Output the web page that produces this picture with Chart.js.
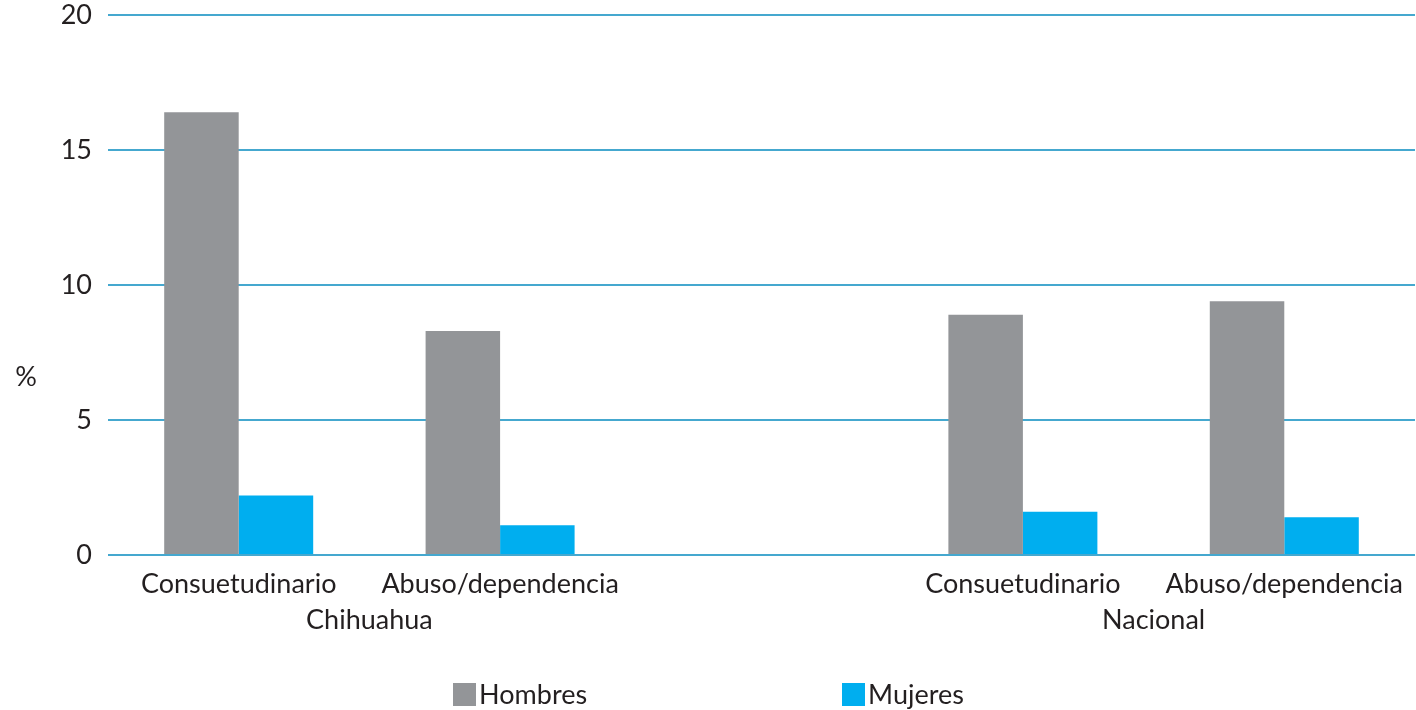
<!DOCTYPE html>
<html>
<head>
<meta charset="utf-8">
<script src="https://cdn.jsdelivr.net/npm/chart.js@4"></script>
<style>
    html, body { margin: 0; padding: 0; background: #fff; }
    #wrap { position: relative; width: 1416px; height: 710px; }
    #legend {
        position: absolute; left: 0; right: 0; top: 682px;
        display: flex; justify-content: center; gap: 255px;
        font-family: Lato, sans-serif; font-size: 27px; line-height: 24px; color: #231f20;
        padding-left: 1px;
    }
    .item { display: flex; align-items: center; }
    .box { width: 23px; height: 23px; margin-right: 3px; }
</style>
</head>
<body>
<div id="wrap">
    <canvas id="chart" width="1416" height="710"></canvas>
    <div id="legend"></div>
</div>
<script>
document.addEventListener("DOMContentLoaded", () => {
    // categorías (la posición vacía separa Chihuahua de Nacional)
    const categories = ['Consuetudinario', 'Abuso/dependencia', '', 'Consuetudinario', 'Abuso/dependencia'];
    const groups = ['Chihuahua', 'Nacional'];
    const groupPositions = [0.5, 3.5];

    // porcentajes
    const hombres = [16.4, 8.3, null, 8.9, 9.4];
    const mujeres = [2.2, 1.1, null, 1.6, 1.4];

    const yTicks = [0, 5, 10, 15, 20];
    const yAxisTitle = '%';

    const textColor = '#231f20';
    const gridColor = '#45a8cf';
    const fontFamily = 'Lato, sans-serif';

    // dibuja el "%" sin rotar, a la izquierda del eje
    const percentLabel = {
        id: 'percentLabel',
        afterDraw(chart) {
            const ctx = chart.ctx;
            const y = chart.scales.y;
            ctx.save();
            ctx.font = '27px ' + fontFamily;
            ctx.fillStyle = textColor;
            ctx.textAlign = 'center';
            ctx.textBaseline = 'middle';
            ctx.fillText(yAxisTitle, 26, y.getPixelForValue(6.6));
            ctx.restore();
        }
    };

    const chart = new Chart(document.getElementById('chart').getContext('2d'), {
        type: 'bar',
        data: {
            labels: categories,
            datasets: [
                { label: 'Hombres', data: hombres, backgroundColor: '#939598' },
                { label: 'Mujeres', data: mujeres, backgroundColor: '#00aeef' }
            ]
        },
        options: {
            responsive: false,
            animation: false,
            layout: { padding: { top: 15, bottom: 71, left: 0, right: 0 } },
            datasets: { bar: { barPercentage: 1, categoryPercentage: 0.57 } },
            plugins: {
                legend: { display: false },
                tooltip: { enabled: false }
            },
            scales: {
                x: {
                    grid: { display: false, drawTicks: false },
                    border: { display: false },
                    ticks: {
                        color: textColor,
                        font: { family: fontFamily, size: 27 },
                        padding: 13,
                        maxRotation: 0,
                        autoSkip: false
                    },
                    afterFit(scale) { scale.height = 44; }
                },
                // eje secundario para los nombres de grupo
                x2: {
                    type: 'linear',
                    position: 'bottom',
                    offset: false,
                    bounds: 'data',
                    min: -0.5,
                    max: categories.length - 0.5,
                    grid: { display: false, drawTicks: false },
                    border: { display: false },
                    afterBuildTicks(scale) {
                        scale.ticks = groupPositions.map(v => ({ value: v }));
                    },
                    ticks: {
                        color: textColor,
                        font: { family: fontFamily, size: 27 },
                        padding: 5,
                        callback(value) {
                            const i = groupPositions.indexOf(value);
                            return i >= 0 ? groups[i] : '';
                        }
                    },
                    afterFit(scale) { scale.height = 40; }
                },
                y: {
                    min: 0,
                    max: 20,
                    grid: { color: gridColor, lineWidth: 2, drawTicks: false },
                    border: { display: false },
                    afterBuildTicks(scale) {
                        scale.ticks = yTicks.map(v => ({ value: v }));
                    },
                    ticks: {
                        color: textColor,
                        font: { family: fontFamily, size: 27 },
                        padding: 16
                    },
                    afterFit(scale) {
                        scale.width = 108;
                        scale.paddingTop = 0;
                        scale.paddingBottom = 0;
                    }
                }
            }
        },
        plugins: [percentLabel]
    });

    // leyenda HTML construida con los datos del gráfico
    const legend = document.getElementById('legend');
    chart.data.datasets.forEach(ds => {
        const item = document.createElement('div');
        item.className = 'item';
        const box = document.createElement('span');
        box.className = 'box';
        box.style.background = ds.backgroundColor;
        const text = document.createElement('span');
        text.textContent = ds.label;
        item.appendChild(box);
        item.appendChild(text);
        legend.appendChild(item);
    });
});
</script>
</body>
</html>
